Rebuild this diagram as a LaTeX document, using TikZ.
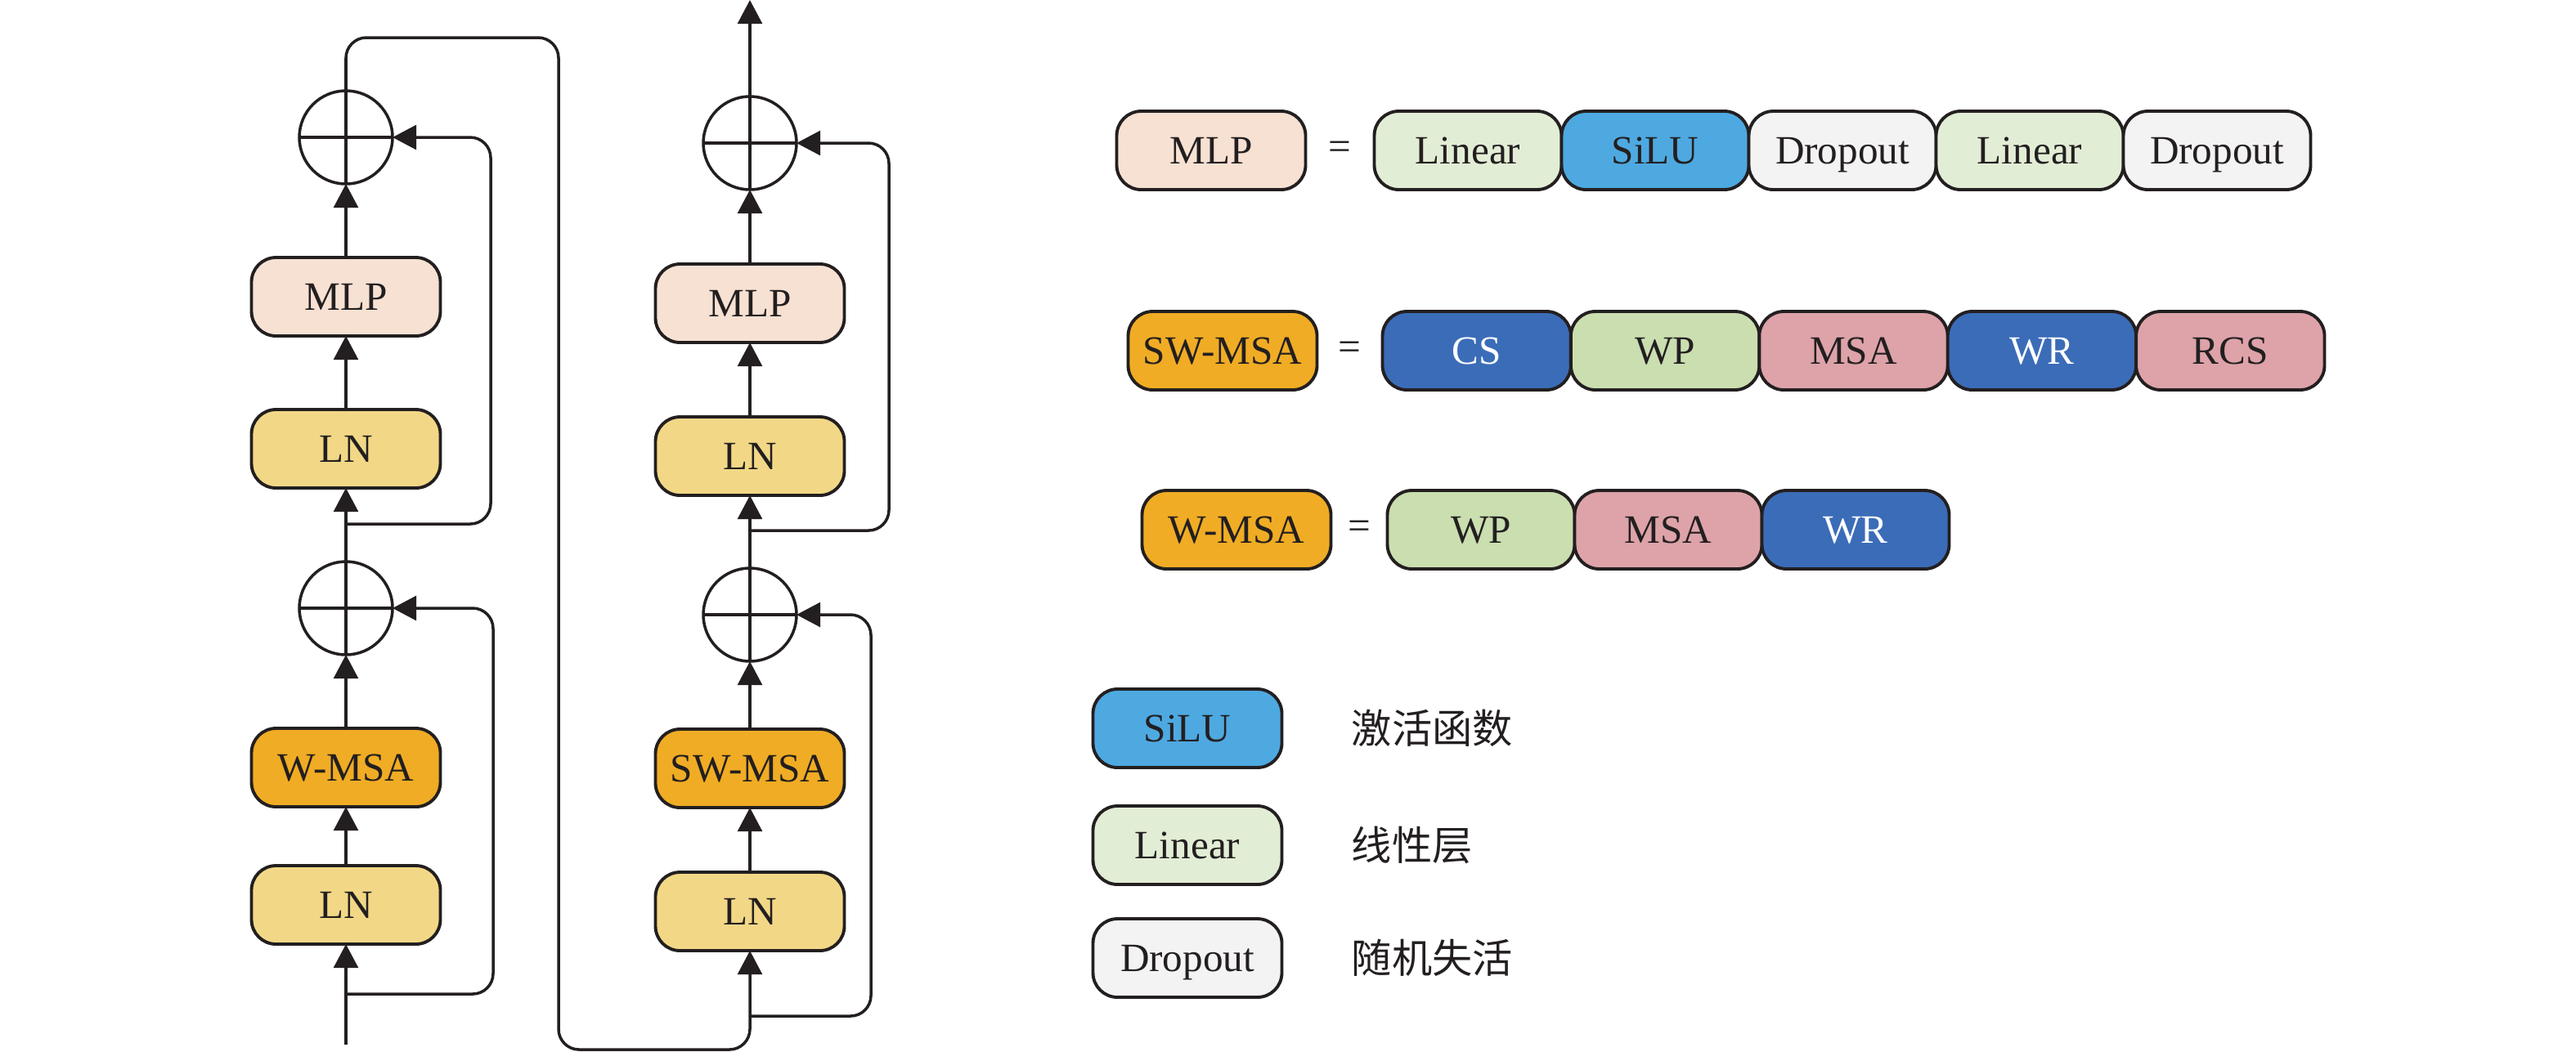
\documentclass[tikz,border=0pt]{standalone}
\usepackage{fontspec}
\setmainfont{Liberation Serif}
\newfontfamily\cjk{Noto Sans CJK SC}
\usepackage{tikz}
\usetikzlibrary{arrows.meta, positioning, calc}

\definecolor{linec}{HTML}{231F20}
\definecolor{mlpc}{HTML}{F7E1D3}
\definecolor{lnc}{HTML}{F2D886}
\definecolor{msac}{HTML}{F0AC24}
\definecolor{linc}{HTML}{E2EDD5}
\definecolor{siluc}{HTML}{4EA9E1}
\definecolor{dropc}{HTML}{F3F3F3}
\definecolor{csc}{HTML}{3B6CB8}
\definecolor{wpc}{HTML}{CADEB0}
\definecolor{attc}{HTML}{DDA3A9}

\begin{document}
\begin{tikzpicture}[
			block/.style={rectangle, draw=linec, line width=1.1pt, rounded corners=0.3cm,
				minimum width=2.31cm, minimum height=0.96cm, inner sep=0pt, outer sep=0pt,
				text height=9.3pt, text depth=0pt,
				text=linec, font=\fontsize{14}{16}\selectfont},
			part/.style={block, minimum width=2.29cm},
			addop/.style={circle, draw=linec, line width=1pt, minimum size=1.14cm,
				inner sep=0pt, outer sep=0pt,
				path picture={\draw[linec, line width=1pt]
					(path picture bounding box.north) -- (path picture bounding box.south)
					(path picture bounding box.west) -- (path picture bounding box.east);}},
			arr/.style={-{Triangle[length=8.3pt, width=8.5pt]}, line width=1pt, draw=linec},
			skip/.style={arr, rounded corners=0.25cm},
			eqs/.style={text=linec, font=\fontsize{14}{16}\selectfont},
			note/.style={text=linec, font=\cjk\fontsize{14}{16}\selectfont},
			]
			\useasboundingbox (0,0) rectangle (31.5,-12.86);
			
			% Left block (W-MSA)
			\node[block, fill=lnc] (lnA1) at (4.23,-11.07) {LN};
			\node[block, fill=msac, above=0.72cm of lnA1] (wmsaA) {W-MSA};
			\node[addop, above=0.9cm of wmsaA] (addA1) {};
			\node[block, fill=lnc, above=0.9cm of addA1] (lnA2) {LN};
			\node[block, fill=mlpc, above=0.9cm of lnA2] (mlpA) {MLP};
			\node[addop, above=0.9cm of mlpA] (addA2) {};
			
			% Right block (SW-MSA)
			\node[block, fill=lnc] (lnB1) at (9.17,-11.15) {LN};
			\node[block, fill=msac, above=0.79cm of lnB1] (swmsaB) {SW-MSA};
			\node[addop, above=0.83cm of swmsaB] (addB1) {};
			\node[block, fill=lnc, above=0.89cm of addB1] (lnB2) {LN};
			\node[block, fill=mlpc, above=0.91cm of lnB2] (mlpB) {MLP};
			\node[addop, above=0.91cm of mlpB] (addB2) {};
			
			% Arrows
			\coordinate (inA) at (4.23,-12.78);
			\coordinate (outB) at (9.17,0);
			\draw[arr] (inA) -- (lnA1);
			\draw[arr] (lnA1) -- (wmsaA);
			\draw[arr] (wmsaA) -- (addA1);
			\draw[arr] (addA1) -- (lnA2);
			\draw[arr] (lnA2) -- (mlpA);
			\draw[arr] (mlpA) -- (addA2);
			\draw[arr] (lnB1) -- (swmsaB);
			\draw[arr] (swmsaB) -- (addB1);
			\draw[arr] (addB1) -- (lnB2);
			\draw[arr] (lnB2) -- (mlpB);
			\draw[arr] (mlpB) -- (addB2);
			\draw[arr] (addB2) -- (outB);
			
			% Residual paths
			\coordinate (brA1) at (4.23,-12.16);
			\coordinate (brA2) at (4.23,-6.41);
			\coordinate (brB1) at (9.17,-12.43);
			\coordinate (brB2) at (9.17,-6.49);
			\draw[skip] (brA1) -- ++(1.80,0) |- (addA1.east);
			\draw[skip] (brA2) -- ++(1.77,0) |- (addA2.east);
			\draw[skip] (brB1) -- ++(1.48,0) |- (addB1.east);
			\draw[skip] (brB2) -- ++(1.70,0) |- (addB2.east);
			\draw[skip] (addA2.north) |- (6.83,-0.46) -- (6.83,-12.84) -| (lnB1.south);
			
			% MLP = ...
			\node[block, fill=mlpc] (mlpDef) at (14.81,-1.84) {MLP};
			\node[part, fill=linc, right=0.84cm of mlpDef] (linA) {Linear};
			\node[part, fill=siluc, right=0pt of linA] (siluA) {SiLU};
			\node[part, fill=dropc, right=0pt of siluA] (dropA) {Dropout};
			\node[part, fill=linc, right=0pt of dropA] (linB) {Linear};
			\node[part, fill=dropc, right=0pt of linB] (dropB) {Dropout};
			\node[eqs] (eqA) at ($(mlpDef.east)!0.5!(linA.west)$) {=};
			
			% SW-MSA = ...
			\node[block, fill=msac] (swDef) at (14.95,-4.29) {SW-MSA};
			\node[part, fill=csc, text=white, minimum width=2.304cm, right=0.80cm of swDef] (csA) {CS};
			\node[part, fill=wpc, minimum width=2.304cm, right=0pt of csA] (wpA) {WP};
			\node[part, fill=attc, minimum width=2.304cm, right=0pt of wpA] (msaA) {MSA};
			\node[part, fill=csc, text=white, minimum width=2.304cm, right=0pt of msaA] (wrA) {WR};
			\node[part, fill=attc, minimum width=2.304cm, right=0pt of wrA] (rcsA) {RCS};
			\node[eqs] (eqB) at ($(swDef.east)!0.5!(csA.west)$) {=};
			
			% W-MSA = ...
			\node[block, fill=msac] (wDef) at (15.12,-6.48) {W-MSA};
			\node[part, fill=wpc, right=0.69cm of wDef] (wpB) {WP};
			\node[part, fill=attc, right=0pt of wpB] (msaB) {MSA};
			\node[part, fill=csc, text=white, right=0pt of msaB] (wrB) {WR};
			\node[eqs] (eqC) at ($(wDef.east)!0.5!(wpB.west)$) {=};
			
			% Legend
			\node[block, fill=siluc] (legSilu) at (14.52,-8.91) {SiLU};
			\node[block, fill=linc] (legLin) at (14.52,-10.34) {Linear};
			\node[block, fill=dropc] (legDrop) at (14.52,-11.72) {Dropout};
			\node[note, right=0.73cm of legSilu] {激活函数};
			\node[note, right=0.73cm of legLin] {线性层};
			\node[note, right=0.73cm of legDrop] {随机失活};
		\end{tikzpicture}
\end{document}
